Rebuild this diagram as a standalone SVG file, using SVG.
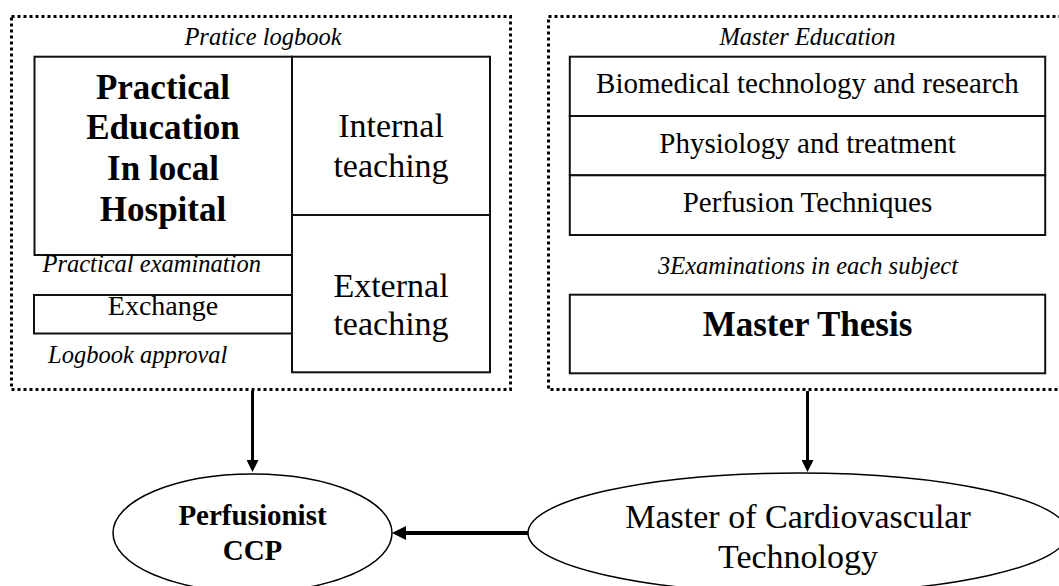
<svg xmlns="http://www.w3.org/2000/svg" width="1059" height="586" viewBox="0 0 1059 586">
<style>
.dot{fill:none;stroke:#000;stroke-width:3;stroke-dasharray:3 3}
.box{fill:#fff;stroke:#111;stroke-width:2}
.ell{fill:#fff;stroke:#000;stroke-width:1.5}
.t{font-family:"Liberation Serif","Times New Roman",serif;fill:#000;text-anchor:middle}
.it{font-style:italic;font-size:24.5px}
.reg{font-size:34px}
.sub{font-size:29px}
.b{font-weight:bold}
.arr{stroke:#000;fill:none}
</style>
<defs>
<marker id="ah" viewBox="0 0 12 12" markerWidth="12" markerHeight="12" refX="6" refY="6" orient="auto" markerUnits="userSpaceOnUse">
<path d="M0,0 L12,6 L0,12 z" fill="#000"/>
</marker>
<marker id="ah2" viewBox="0 0 14 14" markerWidth="14" markerHeight="14" refX="6" refY="7" orient="auto" markerUnits="userSpaceOnUse">
<path d="M0,0 L14,7 L0,14 z" fill="#000"/>
</marker>
</defs>

<g id="practice-logbook">
<rect class="dot" x="11.5" y="16.5" width="499" height="373"/>
<text class="t it" x="263" y="45">Pratice logbook</text>
</g>

<g id="practical-education">
<rect class="box" x="34.5" y="56.7" width="257.5" height="198.3"/>
<text class="t b" style="font-size:35px" x="163" y="99">Practical</text>
<text class="t b" style="font-size:35px" x="163" y="138.5">Education</text>
<text class="t b" style="font-size:35px" x="163" y="180">In local</text>
<text class="t b" style="font-size:35px" x="163" y="220.5">Hospital</text>
</g>

<g id="internal-teaching">
<rect class="box" x="292" y="56.7" width="198" height="158.3"/>
<text class="t reg" x="391" y="137">Internal</text>
<text class="t reg" x="391" y="177">teaching</text>
</g>

<g id="external-teaching">
<rect class="box" x="292" y="215" width="198" height="157.3"/>
<text class="t reg" x="391" y="297">External</text>
<text class="t reg" x="391" y="335">teaching</text>
</g>

<g id="practical-examination">
<text class="t it" style="text-anchor:start" x="42.5" y="272">Practical examination</text>
</g>

<g id="exchange">
<rect class="box" x="34" y="295" width="258" height="38.5"/>
<text class="t" style="font-size:28px" x="163" y="315">Exchange</text>
</g>

<g id="logbook-approval">
<text class="t it" style="text-anchor:start" x="48" y="363">Logbook approval</text>
</g>

<g id="master-education">
<rect class="dot" x="548.5" y="16.5" width="530" height="373"/>
<text class="t it" x="807.5" y="45">Master Education</text>
</g>

<g id="biomedical">
<rect class="box" x="569.8" y="56.7" width="475.4" height="59.3"/>
<text class="t sub" x="807.5" y="92.7">Biomedical technology and research</text>
</g>

<g id="physiology">
<rect class="box" x="569.8" y="116" width="475.4" height="59.3"/>
<text class="t sub" x="807.5" y="153">Physiology and treatment</text>
</g>

<g id="perfusion-techniques">
<rect class="box" x="569.8" y="175.3" width="475.4" height="59.7"/>
<text class="t sub" x="807.5" y="212.3">Perfusion Techniques</text>
</g>

<g id="examinations">
<text class="t it" x="808" y="274">3Examinations in each subject</text>
</g>

<g id="master-thesis">
<rect class="box" x="569.8" y="294.7" width="475.4" height="78.6"/>
<text class="t b" style="font-size:35px" x="807.5" y="336">Master Thesis</text>
</g>

<g id="perfusionist">
<ellipse class="ell" cx="252.5" cy="533" rx="139.5" ry="59"/>
<text class="t b" style="font-size:29px" x="252.5" y="525">Perfusionist</text>
<text class="t b" style="font-size:29px" x="252.5" y="560">CCP</text>
</g>

<g id="master-cardiovascular">
<ellipse class="ell" cx="798" cy="533" rx="270" ry="60"/>
<text class="t" style="font-size:34px" x="798" y="528">Master of Cardiovascular</text>
<text class="t" style="font-size:34px" x="798" y="568">Technology</text>
</g>

<g id="connectors">
<line class="arr" x1="252.5" y1="391" x2="252.5" y2="466" stroke-width="3" marker-end="url(#ah)"/>
<line class="arr" x1="807.5" y1="391" x2="807.5" y2="466" stroke-width="3" marker-end="url(#ah)"/>
<line class="arr" x1="528" y1="533" x2="400" y2="533" stroke-width="4" marker-end="url(#ah2)"/>
</g>
</svg>
